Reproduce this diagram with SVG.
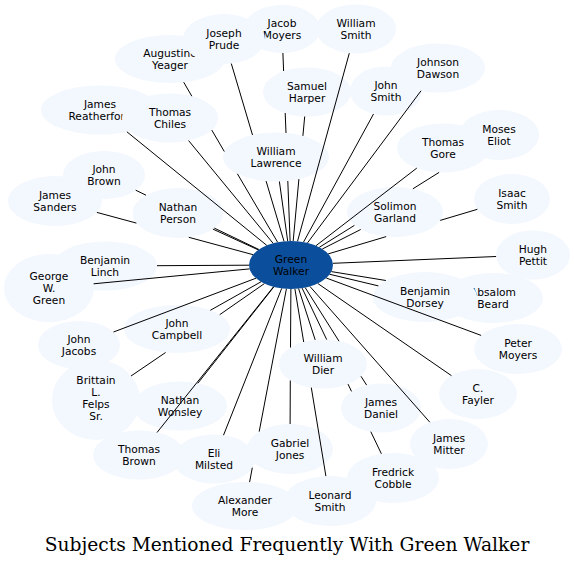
<svg xmlns="http://www.w3.org/2000/svg" width="574" height="566" viewBox="0 0 574 566">
<style>
.n ellipse{fill:#f3f7fe;stroke:none}
.n text{font-family:"DejaVu Sans","Liberation Sans",sans-serif;font-size:10.67px;text-anchor:middle;fill:#000}
#hub ellipse{fill:#0b4f9c}
#connectors path{fill:none;stroke:#000;stroke-width:1}
.title{font-family:"DejaVu Serif","Liberation Serif",serif;font-size:18.67px;text-anchor:middle;fill:#000}
</style>
<rect width="574" height="566" fill="#fff"/>
<g id="nodes">
<g id="augustine-yeager" class="n"><ellipse cx="170" cy="59" rx="55" ry="24"/><text><tspan x="170" y="57">Augustine</tspan><tspan x="170" y="69">Yeager</tspan></text></g>
<g id="jacob-moyers" class="n"><ellipse cx="282" cy="29" rx="38" ry="24"/><text><tspan x="282" y="27">Jacob</tspan><tspan x="282" y="39">Moyers</tspan></text></g>
<g id="joseph-prude" class="n"><ellipse cx="224" cy="39" rx="41" ry="25"/><text><tspan x="224" y="37">Joseph</tspan><tspan x="224" y="49">Prude</tspan></text></g>
<g id="william-smith" class="n"><ellipse cx="356" cy="29" rx="40" ry="24.5"/><text><tspan x="356" y="27">William</tspan><tspan x="356" y="39">Smith</tspan></text></g>
<g id="samuel-harper" class="n"><ellipse cx="307" cy="92" rx="44" ry="24.5"/><text><tspan x="307" y="90">Samuel</tspan><tspan x="307" y="102">Harper</tspan></text></g>
<g id="james-reatherford" class="n"><ellipse cx="100" cy="110" rx="59" ry="24.5"/><text><tspan x="100" y="108">James</tspan><tspan x="100" y="120">Reatherford</tspan></text></g>
<g id="thomas-chiles" class="n"><ellipse cx="170" cy="118" rx="48" ry="24.5"/><text><tspan x="170" y="116">Thomas</tspan><tspan x="170" y="128">Chiles</tspan></text></g>
<g id="william-lawrence" class="n"><ellipse cx="276" cy="157" rx="53" ry="24.5"/><text><tspan x="276" y="155">William</tspan><tspan x="276" y="167">Lawrence</tspan></text></g>
<g id="johnson-dawson" class="n"><ellipse cx="438" cy="68" rx="47" ry="24.5"/><text><tspan x="438" y="66">Johnson</tspan><tspan x="438" y="78">Dawson</tspan></text></g>
<g id="john-smith" class="n"><ellipse cx="386" cy="91" rx="36" ry="24.5"/><text><tspan x="386" y="89">John</tspan><tspan x="386" y="101">Smith</tspan></text></g>
<g id="moses-eliot" class="n"><ellipse cx="499" cy="135" rx="40" ry="25"/><text><tspan x="499" y="133">Moses</tspan><tspan x="499" y="145">Eliot</tspan></text></g>
<g id="thomas-gore" class="n"><ellipse cx="443" cy="148" rx="46" ry="24.5"/><text><tspan x="443" y="146">Thomas</tspan><tspan x="443" y="158">Gore</tspan></text></g>
<g id="isaac-smith" class="n"><ellipse cx="512" cy="199" rx="38" ry="25"/><text><tspan x="512" y="197">Isaac</tspan><tspan x="512" y="209">Smith</tspan></text></g>
<g id="solimon-garland" class="n"><ellipse cx="395" cy="212" rx="48" ry="25"/><text><tspan x="395" y="210">Solimon</tspan><tspan x="395" y="222">Garland</tspan></text></g>
<g id="hugh-pettit" class="n"><ellipse cx="533" cy="255" rx="37" ry="24.5"/><text><tspan x="533" y="253">Hugh</tspan><tspan x="533" y="265">Pettit</tspan></text></g>
<g id="absalom-beard" class="n"><ellipse cx="493" cy="298" rx="50" ry="25"/><text><tspan x="493" y="296">Absalom</tspan><tspan x="493" y="308">Beard</tspan></text></g>
<g id="benjamin-dorsey" class="n"><ellipse cx="425" cy="297" rx="52" ry="25"/><text><tspan x="425" y="295">Benjamin</tspan><tspan x="425" y="307">Dorsey</tspan></text></g>
<g id="peter-moyers" class="n"><ellipse cx="518" cy="349" rx="44" ry="25"/><text><tspan x="518" y="347">Peter</tspan><tspan x="518" y="359">Moyers</tspan></text></g>
<g id="c-fayler" class="n"><ellipse cx="478" cy="394" rx="39" ry="25"/><text><tspan x="478" y="392">C.</tspan><tspan x="478" y="404">Fayler</tspan></text></g>
<g id="fredrick-cobble" class="n"><ellipse cx="393" cy="478" rx="46" ry="25"/><text><tspan x="393" y="476">Fredrick</tspan><tspan x="393" y="488">Cobble</tspan></text></g>
<g id="james-daniel" class="n"><ellipse cx="381" cy="408" rx="40" ry="24.5"/><text><tspan x="381" y="406">James</tspan><tspan x="381" y="418">Daniel</tspan></text></g>
<g id="james-mitter" class="n"><ellipse cx="449" cy="444" rx="39" ry="25"/><text><tspan x="449" y="442">James</tspan><tspan x="449" y="454">Mitter</tspan></text></g>
<g id="gabriel-jones" class="n"><ellipse cx="290" cy="449" rx="43" ry="25"/><text><tspan x="290" y="447">Gabriel</tspan><tspan x="290" y="459">Jones</tspan></text></g>
<g id="leonard-smith" class="n"><ellipse cx="330" cy="501" rx="46" ry="25"/><text><tspan x="330" y="499">Leonard</tspan><tspan x="330" y="511">Smith</tspan></text></g>
<g id="alexander-more" class="n"><ellipse cx="245" cy="506" rx="53" ry="24"/><text><tspan x="245" y="504">Alexander</tspan><tspan x="245" y="516">More</tspan></text></g>
<g id="eli-milsted" class="n"><ellipse cx="214" cy="459" rx="41" ry="24.5"/><text><tspan x="214" y="457">Eli</tspan><tspan x="214" y="469">Milsted</tspan></text></g>
<g id="william-dier" class="n"><ellipse cx="323" cy="364" rx="44" ry="24.5"/><text><tspan x="323" y="362">William</tspan><tspan x="323" y="374">Dier</tspan></text></g>
<g id="nathan-wonsley" class="n"><ellipse cx="180" cy="406" rx="47" ry="24.5"/><text><tspan x="180" y="404">Nathan</tspan><tspan x="180" y="416">Wonsley</tspan></text></g>
<g id="thomas-brown" class="n"><ellipse cx="139" cy="455" rx="46" ry="24.5"/><text><tspan x="139" y="453">Thomas</tspan><tspan x="139" y="465">Brown</tspan></text></g>
<g id="brittain-l-felps-sr" class="n"><ellipse cx="96" cy="400" rx="44" ry="40"/><text><tspan x="96" y="384">Brittain</tspan><tspan x="96" y="396">L.</tspan><tspan x="96" y="408">Felps</tspan><tspan x="96" y="420">Sr.</tspan></text></g>
<g id="john-jacobs" class="n"><ellipse cx="79" cy="345" rx="41" ry="24"/><text><tspan x="79" y="343">John</tspan><tspan x="79" y="355">Jacobs</tspan></text></g>
<g id="john-campbell" class="n"><ellipse cx="177" cy="329" rx="53" ry="24"/><text><tspan x="177" y="327">John</tspan><tspan x="177" y="339">Campbell</tspan></text></g>
<g id="benjamin-linch" class="n"><ellipse cx="105" cy="266" rx="52" ry="24.5"/><text><tspan x="105" y="264">Benjamin</tspan><tspan x="105" y="276">Linch</tspan></text></g>
<g id="george-w-green" class="n"><ellipse cx="49" cy="288" rx="45" ry="34"/><text><tspan x="49" y="280">George</tspan><tspan x="49" y="292">W.</tspan><tspan x="49" y="304">Green</tspan></text></g>
<g id="james-sanders" class="n"><ellipse cx="55" cy="201" rx="47" ry="25"/><text><tspan x="55" y="199">James</tspan><tspan x="55" y="211">Sanders</tspan></text></g>
<g id="john-brown" class="n"><ellipse cx="104" cy="175" rx="41" ry="24"/><text><tspan x="104" y="173">John</tspan><tspan x="104" y="185">Brown</tspan></text></g>
<g id="nathan-person" class="n"><ellipse cx="178" cy="213" rx="45.5" ry="25"/><text><tspan x="178" y="211">Nathan</tspan><tspan x="178" y="223">Person</tspan></text></g>
<g id="hub" class="n"><ellipse cx="291" cy="265" rx="42" ry="24"/><text><tspan x="291" y="263">Green</tspan><tspan x="291" y="275">Walker</tspan></text></g>
</g>
<g id="connectors">
<path d="M290.1,241L287.8,181M286,133L285.2,113M283.6,71L282.9,53"/>
<path d="M277.6,242.2L237.4,173.8M224.3,151.5L211.8,130.1M191.8,96.2L183.7,82.2"/>
<path d="M284,241.3L266.1,181.1M252.5,135L231.3,63.6"/>
<path d="M293.2,241L298.9,179.1M302.9,135.9L304.7,116.5"/>
<path d="M297.5,241.3L349.3,53.2"/>
<path d="M266.8,245.4L126.9,131.8"/>
<path d="M273.1,243.3L188.6,140.6"/>
<path d="M287.7,241.1L279.4,181.5"/>
<path d="M307.5,242.9L421,90.8"/>
<path d="M303.5,242.1L373.5,114"/>
<path d="M319.3,247.3L354.4,225.4M412.9,188.8L439.1,172.4"/>
<path d="M328.2,253.9L386.2,236.6M440.2,220.4L477.4,209.3"/>
<path d="M322.3,249L360.7,229.5"/>
<path d="M316,245.7L416.8,168.1"/>
<path d="M332.9,263.3L496.1,256.5"/>
<path d="M331.4,271.6L385.9,280.5"/>
<path d="M329.8,274.3L378.4,285.9"/>
<path d="M326.3,278L481.1,335.4"/>
<path d="M317.8,283.5L451.5,375.7"/>
<path d="M302.1,288.1L326.7,339.6M348,384.1L351.5,391.4M370.8,431.7L381.4,453.8"/>
<path d="M305.2,287.6L339,341.2M361,376.3L366.6,385.1"/>
<path d="M309.9,286.4L429.8,422.2"/>
<path d="M294.9,288.9L303.7,342M311.3,387.6L325.9,476.1"/>
<path d="M286.4,288.9L259.2,431.6M252.3,467.7L249.6,482.1"/>
<path d="M290.9,289L290.5,347.5M290.3,380.5L290.1,424"/>
<path d="M298.6,288.6L315.2,339.9"/>
<path d="M281.7,288.4L223.5,435.2"/>
<path d="M273.8,286.9L197.8,383.3"/>
<path d="M273.5,286.8L157,432.5"/>
<path d="M264.4,283.6L219.7,314.7M165.6,352.5L131,376"/>
<path d="M261,281.8L210.3,310.3"/>
<path d="M256,278.2L113.5,332"/>
<path d="M249,265.2L157,265.7"/>
<path d="M249.6,268.9L93.6,283.8"/>
<path d="M253.1,254.7L188.8,237.3M136.4,223.1L96.9,212.4"/>
<path d="M258.9,249.5L214.3,228.1M146,195.2L135.7,190.2"/>
<path d="M258.3,249.9L212.9,229.1"/>
</g>
<text class="title" x="287" y="551">Subjects Mentioned Frequently With Green Walker</text>
</svg>
